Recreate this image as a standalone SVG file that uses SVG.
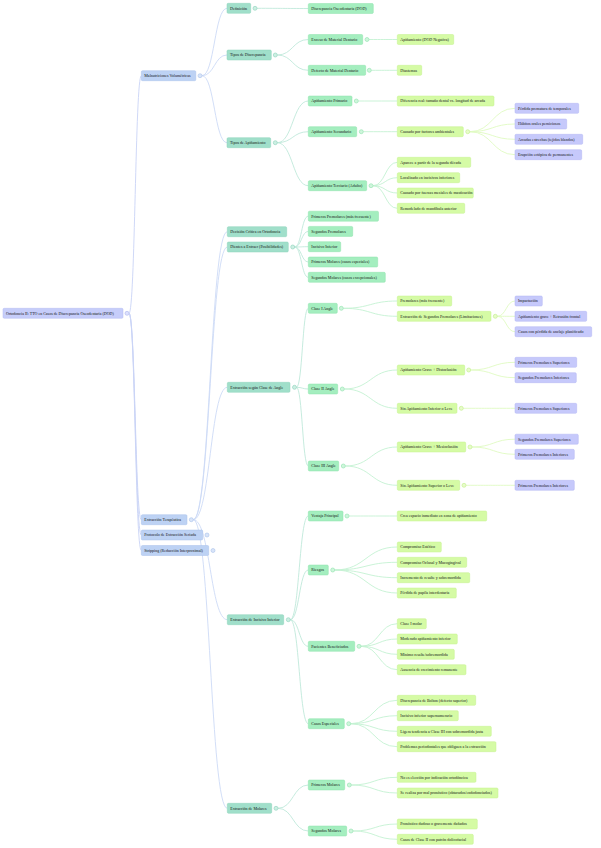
<svg xmlns="http://www.w3.org/2000/svg" width="601" height="848" viewBox="0 0 601 848">
<style>
text{font-family:"Liberation Serif","Times New Roman",serif;font-size:4px;fill:#141414}
rect{rx:1.2;ry:1.2;stroke-width:0.5}
.l0{fill:#c6cdfa;stroke:#b2baf0}
.l1{fill:#bdd2f4;stroke:#a9c1ea}
.l2{fill:#a0dfca;stroke:#8cd2bb}
.l3{fill:#a4eebf;stroke:#8fe2ad}
.l4{fill:#d5fba5;stroke:#c4f18e}
.l5{fill:#c6c9fb;stroke:#b3b7f3}
circle{stroke-width:0.6}
.c0{fill:#dde1fc;stroke:#aab3ef}
.c1{fill:#d9e5f9;stroke:#a9c1ea}
.c2{fill:#cdefe3;stroke:#8cd2bb}
.c3{fill:#cff6dc;stroke:#8fe2ad}
.c4{fill:#e8fcca;stroke:#bfee88}
path{fill:none;stroke-width:0.9}
.e0{stroke:#c9d4f6}
.e1{stroke:#cddaf6}
.e2{stroke:#bfe9da}
.e3{stroke:#c4f2d3}
.e4{stroke:#e0fac2}
</style>
<g id="connectors">
<path class="e0" d="M129 313.3C135.2 313.3 135.2 75.7 141.3 75.7"/>
<path class="e0" d="M129 313.3C135.2 313.3 135.2 519.7 141.3 519.7"/>
<path class="e0" d="M129 313.3C135.2 313.3 135.2 535 141.3 535"/>
<path class="e0" d="M129 313.3C135.2 313.3 135.2 550.5 141.3 550.5"/>
<path class="e1" d="M202 75.7C214.5 75.7 214.5 8.3 227 8.3"/>
<path class="e1" d="M202 75.7C214.5 75.7 214.5 55 227 55"/>
<path class="e1" d="M202 75.7C214.5 75.7 214.5 142.7 227 142.7"/>
<path class="e1" d="M193.3 519.7C210.3 519.7 210.3 231.7 227.3 231.7"/>
<path class="e1" d="M193.3 519.7C210.3 519.7 210.3 247 227.3 247"/>
<path class="e1" d="M193.3 519.7C210.3 519.7 210.3 387.3 227.3 387.3"/>
<path class="e1" d="M193.3 519.7C210.3 519.7 210.3 619.7 227.3 619.7"/>
<path class="e1" d="M193.3 519.7C210.3 519.7 210.3 808.3 227.3 808.3"/>
<path class="e2" d="M257 8.3C282.7 8.3 282.7 8.5 308.3 8.5"/>
<path class="e2" d="M277.3 55C292.8 55 292.8 39.5 308.3 39.5"/>
<path class="e2" d="M277.3 55C292.8 55 292.8 70.3 308.3 70.3"/>
<path class="e2" d="M277.3 142.7C292.8 142.7 292.8 101 308.3 101"/>
<path class="e2" d="M277.3 142.7C292.8 142.7 292.8 131.7 308.3 131.7"/>
<path class="e2" d="M277.3 142.7C292.8 142.7 292.8 185.7 308.3 185.7"/>
<path class="e2" d="M294.7 247C301.5 247 301.5 216.2 308.3 216.2"/>
<path class="e2" d="M294.7 247C301.5 247 301.5 231.4 308.3 231.4"/>
<path class="e2" d="M294.7 247C301.5 247 301.5 246.7 308.3 246.7"/>
<path class="e2" d="M294.7 247C301.5 247 301.5 262 308.3 262"/>
<path class="e2" d="M294.7 247C301.5 247 301.5 277.3 308.3 277.3"/>
<path class="e2" d="M296.5 387.3C302.4 387.3 302.4 308.3 308.3 308.3"/>
<path class="e2" d="M296.5 387.3C302.4 387.3 302.4 389 308.3 389"/>
<path class="e2" d="M296.5 387.3C302.4 387.3 302.4 466 308.3 466"/>
<path class="e2" d="M290.3 619.7C299.3 619.7 299.3 516 308.3 516"/>
<path class="e2" d="M290.3 619.7C299.3 619.7 299.3 570 308.3 570"/>
<path class="e2" d="M290.3 619.7C299.3 619.7 299.3 646.3 308.3 646.3"/>
<path class="e2" d="M290.3 619.7C299.3 619.7 299.3 723.7 308.3 723.7"/>
<path class="e2" d="M278 808.3C293.2 808.3 293.2 785 308.3 785"/>
<path class="e2" d="M278 808.3C293.2 808.3 293.2 831 308.3 831"/>
<path class="e3" d="M369 39.5C383.2 39.5 383.2 39.5 397.3 39.5"/>
<path class="e3" d="M371.3 70.3C384.3 70.3 384.3 70.3 397.3 70.3"/>
<path class="e3" d="M358.3 101C377.8 101 377.8 101 397.3 101"/>
<path class="e3" d="M363.3 131.7C380.3 131.7 380.3 131.7 397.3 131.7"/>
<path class="e3" d="M373 185.7C385.2 185.7 385.2 162.3 397.3 162.3"/>
<path class="e3" d="M373 185.7C385.2 185.7 385.2 177.7 397.3 177.7"/>
<path class="e3" d="M373 185.7C385.2 185.7 385.2 193 397.3 193"/>
<path class="e3" d="M373 185.7C385.2 185.7 385.2 208.3 397.3 208.3"/>
<path class="e3" d="M343.3 308.3C370.3 308.3 370.3 301 397.3 301"/>
<path class="e3" d="M343.3 308.3C370.3 308.3 370.3 316.3 397.3 316.3"/>
<path class="e3" d="M344.3 389C370.8 389 370.8 370 397.3 370"/>
<path class="e3" d="M344.3 389C370.8 389 370.8 408.3 397.3 408.3"/>
<path class="e3" d="M345.3 466C371.3 466 371.3 447 397.3 447"/>
<path class="e3" d="M345.3 466C371.3 466 371.3 485.3 397.3 485.3"/>
<path class="e3" d="M349 516C373.2 516 373.2 516 397.3 516"/>
<path class="e3" d="M334.7 570C366 570 366 547 397.3 547"/>
<path class="e3" d="M334.7 570C366 570 366 562.3 397.3 562.3"/>
<path class="e3" d="M334.7 570C366 570 366 577.7 397.3 577.7"/>
<path class="e3" d="M334.7 570C366 570 366 593 397.3 593"/>
<path class="e3" d="M361 646.3C379.2 646.3 379.2 623.7 397.3 623.7"/>
<path class="e3" d="M361 646.3C379.2 646.3 379.2 639 397.3 639"/>
<path class="e3" d="M361 646.3C379.2 646.3 379.2 654.3 397.3 654.3"/>
<path class="e3" d="M361 646.3C379.2 646.3 379.2 669.7 397.3 669.7"/>
<path class="e3" d="M350.7 723.7C374 723.7 374 700.3 397.3 700.3"/>
<path class="e3" d="M350.7 723.7C374 723.7 374 715.7 397.3 715.7"/>
<path class="e3" d="M350.7 723.7C374 723.7 374 731.3 397.3 731.3"/>
<path class="e3" d="M350.7 723.7C374 723.7 374 746.7 397.3 746.7"/>
<path class="e3" d="M351.3 785C374.3 785 374.3 777.3 397.3 777.3"/>
<path class="e3" d="M351.3 785C374.3 785 374.3 793 397.3 793"/>
<path class="e3" d="M353 831C375.2 831 375.2 824 397.3 824"/>
<path class="e3" d="M353 831C375.2 831 375.2 839.3 397.3 839.3"/>
<path class="e4" d="M469.7 131.7C492.4 131.7 492.4 108.3 515 108.3"/>
<path class="e4" d="M469.7 131.7C492.4 131.7 492.4 124 515 124"/>
<path class="e4" d="M469.7 131.7C492.4 131.7 492.4 139.3 515 139.3"/>
<path class="e4" d="M469.7 131.7C492.4 131.7 492.4 154.7 515 154.7"/>
<path class="e4" d="M497.3 316.3C506.2 316.3 506.2 301 515 301"/>
<path class="e4" d="M497.3 316.3C506.2 316.3 506.2 316.3 515 316.3"/>
<path class="e4" d="M497.3 316.3C506.2 316.3 506.2 331.7 515 331.7"/>
<path class="e4" d="M470.7 370C492.9 370 492.9 362.3 515 362.3"/>
<path class="e4" d="M470.7 370C492.9 370 492.9 377.7 515 377.7"/>
<path class="e4" d="M463.3 408.3C489.2 408.3 489.2 408.3 515 408.3"/>
<path class="e4" d="M472 447C493.5 447 493.5 439.2 515 439.2"/>
<path class="e4" d="M472 447C493.5 447 493.5 454.3 515 454.3"/>
<path class="e4" d="M466 485.3C490.5 485.3 490.5 485.3 515 485.3"/>
</g>
<g id="root"><rect class="l0" x="3" y="308.3" width="120" height="10"/><text x="6" y="314.7">Ortodoncia II: TTO en Casos de Discrepancia Oseodentaria (DOD)</text><circle class="c0" cx="127" cy="313.3" r="2"/></g>
<g id="malnutriciones"><rect class="l1" x="141.3" y="70.7" width="54.5" height="10"/><text x="144.3" y="77.1">Malnutriciones Volumétricas</text><circle class="c1" cx="200" cy="75.7" r="2"/></g>
<g id="extraccion-terapeutica"><rect class="l1" x="141.3" y="514.7" width="45.7" height="10"/><text x="144.3" y="521.1">Extracción Terapéutica</text><circle class="c1" cx="191.3" cy="519.7" r="2"/></g>
<g id="protocolo"><rect class="l1" x="141.3" y="530" width="61.4" height="10"/><text x="144.3" y="536.4">Protocolo de Extracción Seriada</text><circle class="c1" cx="207" cy="535" r="2"/></g>
<g id="stripping"><rect class="l1" x="141.3" y="545.5" width="67.4" height="10"/><text x="144.3" y="551.9">Stripping (Reducción Interproximal)</text><circle class="c1" cx="213" cy="550.5" r="2"/></g>
<g id="definicion"><rect class="l2" x="227" y="3.3" width="23.7" height="10"/><text x="230" y="9.7">Definición</text><circle class="c2" cx="255" cy="8.3" r="2"/></g>
<g id="tipos-discrepancia"><rect class="l2" x="227" y="50" width="44.3" height="10"/><text x="230" y="56.4">Tipos de Discrepancia</text><circle class="c2" cx="275.3" cy="55" r="2"/></g>
<g id="tipos-apinamiento"><rect class="l2" x="227" y="137.7" width="43.7" height="10"/><text x="230" y="144.1">Tipos de Apiñamiento</text><circle class="c2" cx="275.3" cy="142.7" r="2"/></g>
<g id="decision"><rect class="l2" x="227.3" y="226.7" width="59.4" height="10"/><text x="230.3" y="233.1">Decisión Crítica en Ortodoncia</text></g>
<g id="dientes"><rect class="l2" x="227.3" y="242" width="61" height="10"/><text x="230.3" y="248.4">Dientes a Extraer (Posibilidades)</text><circle class="c2" cx="292.7" cy="247" r="2"/></g>
<g id="segun-clase"><rect class="l2" x="227.3" y="382.3" width="62.7" height="10"/><text x="230.3" y="388.7">Extracción según Clase de Angle</text><circle class="c2" cx="294.5" cy="387.3" r="2"/></g>
<g id="incisivo"><rect class="l2" x="227.3" y="614.7" width="56.4" height="10"/><text x="230.3" y="621.1">Extracción de Incisivo Inferior</text><circle class="c2" cx="288.3" cy="619.7" r="2"/></g>
<g id="molares"><rect class="l2" x="227.3" y="803.3" width="44.4" height="10"/><text x="230.3" y="809.7">Extracción de Molares</text><circle class="c2" cx="276" cy="808.3" r="2"/></g>
<g id="dod"><rect class="l3" x="308.3" y="3.5" width="65" height="10"/><text x="311.3" y="9.9">Discrepancia Oseodentaria (DOD)</text></g>
<g id="exceso"><rect class="l3" x="308.3" y="34.5" width="54.4" height="10"/><text x="311.3" y="40.9">Exceso de Material Dentario</text><circle class="c3" cx="367" cy="39.5" r="2"/></g>
<g id="defecto"><rect class="l3" x="308.3" y="65.3" width="57.4" height="10"/><text x="311.3" y="71.7">Defecto de Material Dentario</text><circle class="c3" cx="369.3" cy="70.3" r="2"/></g>
<g id="primario"><rect class="l3" x="308.3" y="96" width="43.7" height="10"/><text x="311.3" y="102.4">Apiñamiento Primario</text><circle class="c3" cx="356.3" cy="101" r="2"/></g>
<g id="secundario"><rect class="l3" x="308.3" y="126.7" width="48.4" height="10"/><text x="311.3" y="133.1">Apiñamiento Secundario</text><circle class="c3" cx="361.3" cy="131.7" r="2"/></g>
<g id="terciario"><rect class="l3" x="308.3" y="180.7" width="58.4" height="10"/><text x="311.3" y="187.1">Apiñamiento Terciario (Adulto)</text><circle class="c3" cx="371" cy="185.7" r="2"/></g>
<g id="d1"><rect class="l3" x="308.3" y="211.2" width="70.2" height="10"/><text x="311.3" y="217.6">Primeros Premolares (más frecuente)</text></g>
<g id="d2"><rect class="l3" x="308.3" y="226.4" width="44.4" height="10"/><text x="311.3" y="232.8">Segundos Premolares</text></g>
<g id="d3"><rect class="l3" x="308.3" y="241.7" width="32.4" height="10"/><text x="311.3" y="248.1">Incisivo Inferior</text></g>
<g id="d4"><rect class="l3" x="308.3" y="257" width="69.4" height="10"/><text x="311.3" y="263.4">Primeros Molares (casos especiales)</text></g>
<g id="d5"><rect class="l3" x="308.3" y="272.3" width="77" height="10"/><text x="311.3" y="278.7">Segundos Molares (casos excepcionales)</text></g>
<g id="clase1"><rect class="l3" x="308.3" y="303.3" width="29" height="10"/><text x="311.3" y="309.7">Clase I Angle</text><circle class="c3" cx="341.3" cy="308.3" r="2"/></g>
<g id="clase2"><rect class="l3" x="308.3" y="384" width="29.4" height="10"/><text x="311.3" y="390.4">Clase II Angle</text><circle class="c3" cx="342.3" cy="389" r="2"/></g>
<g id="clase3"><rect class="l3" x="308.3" y="461" width="30.4" height="10"/><text x="311.3" y="467.4">Clase III Angle</text><circle class="c3" cx="343.3" cy="466" r="2"/></g>
<g id="ventaja"><rect class="l3" x="308.3" y="511" width="34.7" height="10"/><text x="311.3" y="517.4">Ventaja Principal</text><circle class="c3" cx="347" cy="516" r="2"/></g>
<g id="riesgos"><rect class="l3" x="308.3" y="565" width="20" height="10"/><text x="311.3" y="571.4">Riesgos</text><circle class="c3" cx="332.7" cy="570" r="2"/></g>
<g id="pacientes"><rect class="l3" x="308.3" y="641.3" width="46.4" height="10"/><text x="311.3" y="647.7">Pacientes Beneficiados</text><circle class="c3" cx="359" cy="646.3" r="2"/></g>
<g id="casos"><rect class="l3" x="308.3" y="718.7" width="36" height="10"/><text x="311.3" y="725.1">Casos Especiales</text><circle class="c3" cx="348.7" cy="723.7" r="2"/></g>
<g id="primeros-molares"><rect class="l3" x="308.3" y="780" width="36.4" height="10"/><text x="311.3" y="786.4">Primeros Molares</text><circle class="c3" cx="349.3" cy="785" r="2"/></g>
<g id="segundos-molares"><rect class="l3" x="308.3" y="826" width="38.4" height="10"/><text x="311.3" y="832.4">Segundos Molares</text><circle class="c3" cx="351" cy="831" r="2"/></g>
<g id="a1"><rect class="l4" x="397.3" y="34.5" width="56.4" height="10"/><text x="400.3" y="40.9">Apiñamiento (DOD Negativa)</text></g>
<g id="a2"><rect class="l4" x="397.3" y="65.3" width="24.4" height="10"/><text x="400.3" y="71.7">Diastemas</text></g>
<g id="a3"><rect class="l4" x="397.3" y="96" width="96.7" height="10"/><text x="400.3" y="102.4">Diferencia real: tamaño dental vs. longitud de arcada</text></g>
<g id="a4"><rect class="l4" x="397.3" y="126.7" width="66" height="10"/><text x="400.3" y="133.1">Causado por factores ambientales</text><circle class="c4" cx="467.7" cy="131.7" r="2"/></g>
<g id="a5"><rect class="l4" x="397.3" y="157.3" width="73.4" height="10"/><text x="400.3" y="163.7">Aparece a partir de la segunda década</text></g>
<g id="a6"><rect class="l4" x="397.3" y="172.7" width="62.4" height="10"/><text x="400.3" y="179.1">Localizado en incisivos inferiores</text></g>
<g id="a7"><rect class="l4" x="397.3" y="188" width="76" height="10"/><text x="400.3" y="194.4">Causado por fuerzas mesiales de masticación</text></g>
<g id="a8"><rect class="l4" x="397.3" y="203.3" width="67.4" height="10"/><text x="400.3" y="209.7">Remodelado de mandíbula anterior</text></g>
<g id="b1"><rect class="l4" x="397.3" y="296" width="54.4" height="10"/><text x="400.3" y="302.4">Premolares (más frecuente)</text></g>
<g id="b2"><rect class="l4" x="397.3" y="311.3" width="93.7" height="10"/><text x="400.3" y="317.7">Extracción de Segundos Premolares (Limitaciones)</text><circle class="c4" cx="495.3" cy="316.3" r="2"/></g>
<g id="b3"><rect class="l4" x="397.3" y="365" width="67.4" height="10"/><text x="400.3" y="371.4">Apiñamiento Grave + Distoclusión</text><circle class="c4" cx="468.7" cy="370" r="2"/></g>
<g id="b4"><rect class="l4" x="397.3" y="403.3" width="59.7" height="10"/><text x="400.3" y="409.7">Sin Apiñamiento Inferior o Leve</text><circle class="c4" cx="461.3" cy="408.3" r="2"/></g>
<g id="b5"><rect class="l4" x="397.3" y="442" width="68.4" height="10"/><text x="400.3" y="448.4">Apiñamiento Grave + Mesioclusión</text><circle class="c4" cx="470" cy="447" r="2"/></g>
<g id="b6"><rect class="l4" x="397.3" y="480.3" width="62.4" height="10"/><text x="400.3" y="486.7">Sin Apiñamiento Superior o Leve</text><circle class="c4" cx="464" cy="485.3" r="2"/></g>
<g id="v1"><rect class="l4" x="397.3" y="511" width="89.4" height="10"/><text x="400.3" y="517.4">Crea espacio inmediato en zona de apiñamiento</text></g>
<g id="r1"><rect class="l4" x="397.3" y="542" width="44" height="10"/><text x="400.3" y="548.4">Compromiso Estético</text></g>
<g id="r2"><rect class="l4" x="397.3" y="557.3" width="69.4" height="10"/><text x="400.3" y="563.7">Compromiso Oclusal y Mucogingival</text></g>
<g id="r3"><rect class="l4" x="397.3" y="572.7" width="72.4" height="10"/><text x="400.3" y="579.1">Incremento de resalte y sobremordida</text></g>
<g id="r4"><rect class="l4" x="397.3" y="588" width="59" height="10"/><text x="400.3" y="594.4">Pérdida de papila interdentaria</text></g>
<g id="p1"><rect class="l4" x="397.3" y="618.7" width="29" height="10"/><text x="400.3" y="625.1">Clase I molar</text></g>
<g id="p2"><rect class="l4" x="397.3" y="634" width="60" height="10"/><text x="400.3" y="640.4">Moderado apiñamiento inferior</text></g>
<g id="p3"><rect class="l4" x="397.3" y="649.3" width="57" height="10"/><text x="400.3" y="655.7">Mínimo resalte/sobremordida</text></g>
<g id="p4"><rect class="l4" x="397.3" y="664.7" width="68.7" height="10"/><text x="400.3" y="671.1">Ausencia de crecimiento remanente</text></g>
<g id="s1"><rect class="l4" x="397.3" y="695.3" width="78.4" height="10"/><text x="400.3" y="701.7">Discrepancia de Bolton (defecto superior)</text></g>
<g id="s2"><rect class="l4" x="397.3" y="710.7" width="61" height="10"/><text x="400.3" y="717.1">Incisivo inferior supernumerario</text></g>
<g id="s3"><rect class="l4" x="397.3" y="726.3" width="94" height="10"/><text x="400.3" y="732.7">Ligera tendencia a Clase III con sobremordida justa</text></g>
<g id="s4"><rect class="l4" x="397.3" y="741.7" width="98.7" height="10"/><text x="400.3" y="748.1">Problemas periodontales que obliguen a la extracción</text></g>
<g id="m1"><rect class="l4" x="397.3" y="772.3" width="78.7" height="10"/><text x="400.3" y="778.7">No es elección por indicación ortodóncica</text></g>
<g id="m2"><rect class="l4" x="397.3" y="788" width="100.7" height="10"/><text x="400.3" y="794.4">Se realiza por mal pronóstico (obturados/endodonciados)</text></g>
<g id="m3"><rect class="l4" x="397.3" y="819" width="80" height="10"/><text x="400.3" y="825.4">Pronóstico dudoso o gravemente dañados</text></g>
<g id="m4"><rect class="l4" x="397.3" y="834.3" width="76" height="10"/><text x="400.3" y="840.7">Casos de Clase II con patrón dolicofacial</text></g>
<g id="f1"><rect class="l5" x="515" y="103.3" width="63.7" height="10"/><text x="518" y="109.7">Pérdida prematura de temporales</text></g>
<g id="f2"><rect class="l5" x="515" y="119" width="51.7" height="10"/><text x="518" y="125.4">Hábitos orales perniciosos</text></g>
<g id="f3"><rect class="l5" x="515" y="134.3" width="67.7" height="10"/><text x="518" y="140.7">Arcadas estrechas (tejidos blandos)</text></g>
<g id="f4"><rect class="l5" x="515" y="149.7" width="66.7" height="10"/><text x="518" y="156.1">Erupción ectópica de permanentes</text></g>
<g id="g1"><rect class="l5" x="515" y="296" width="27.3" height="10"/><text x="518" y="302.4">Impactación</text></g>
<g id="g2"><rect class="l5" x="515" y="311.3" width="71.7" height="10"/><text x="518" y="317.7">Apiñamiento grave + Retrusión frontal</text></g>
<g id="g3"><rect class="l5" x="515" y="326.7" width="76.7" height="10"/><text x="518" y="333.1">Casos con pérdida de anclaje planificado</text></g>
<g id="h1"><rect class="l5" x="515" y="357.3" width="61.7" height="10"/><text x="518" y="363.7">Primeros Premolares Superiores</text></g>
<g id="h2"><rect class="l5" x="515" y="372.7" width="61.3" height="10"/><text x="518" y="379.1">Segundos Premolares Inferiores</text></g>
<g id="h3"><rect class="l5" x="515" y="403.3" width="61.7" height="10"/><text x="518" y="409.7">Primeros Premolares Superiores</text></g>
<g id="h4"><rect class="l5" x="515" y="434.2" width="63.3" height="10"/><text x="518" y="440.6">Segundos Premolares Superiores</text></g>
<g id="h5"><rect class="l5" x="515" y="449.3" width="59.3" height="10"/><text x="518" y="455.7">Primeros Premolares Inferiores</text></g>
<g id="h6"><rect class="l5" x="515" y="480.3" width="59.3" height="10"/><text x="518" y="486.7">Primeros Premolares Inferiores</text></g>
</svg>
